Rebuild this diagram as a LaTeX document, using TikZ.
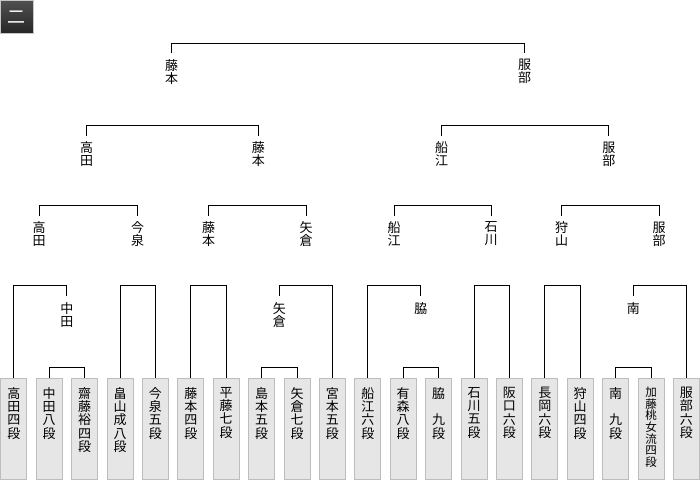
\documentclass[tikz,border=0pt]{standalone}
\usepackage{fontspec}
\setmainfont{Noto Sans CJK JP}
\definecolor{boxfill}{HTML}{E6E6E6}
\definecolor{boxline}{HTML}{BDBDBD}
\definecolor{icontop}{HTML}{505050}
\definecolor{iconbot}{HTML}{262626}
\newcommand\mybrk[3]{\draw[conn] (#1.north) -- (#1.north |- #3) -- (#2.north |- #3) -- (#2.north);}
\begin{document}
\begin{tikzpicture}[x=1pt,y=-1pt,
  conn/.style={draw=black, line width=1pt},
  pbox/.style={draw=boxline, fill=boxfill, minimum width=26pt, minimum height=101pt, anchor=north, inner sep=0pt, line width=1pt},
  ptext/.style={anchor=north, inner sep=0pt, align=center, font=\fontsize{13}{13.3}\selectfont},
  ptextsmall/.style={anchor=north, inner sep=0pt, align=center, font=\fontsize{11.5}{11.6}\selectfont},
  wlabel/.style={anchor=north, inner xsep=0pt, inner ysep=6pt, align=center, font=\fontsize{13}{13}\selectfont},
  iconbox/.style={anchor=north west, minimum width=33pt, minimum height=33pt, inner sep=0pt, top color=icontop, bottom color=iconbot, draw=gray!45, line width=0.8pt, text=white, font=\fontsize{18}{18}\selectfont},
]
\useasboundingbox (0,0) rectangle (700,480);
\fill[white] (0,0) rectangle (700,480);

\node[iconbox] (icon) at (0,0) {二};

% level coordinates
\coordinate (lv1) at (0,367);
\coordinate (lv2) at (0,285);
\coordinate (lv3) at (0,205.7);
\coordinate (lv4) at (0,125);
\coordinate (lv5) at (0,43.3);

% player boxes
\foreach \i/\x in {0/13.8,1/49.2,2/84.6,3/120.0,4/155.4,5/190.8,6/226.2,7/261.6,8/297.0,9/332.4,10/367.8,11/403.2,12/438.6,13/474.0,14/509.4,15/544.8,16/580.2,17/615.6,18/651.0,19/686.4}{
  \node[pbox] (p\i) at (\x,378) {};
}
\node[ptext] (t0) at (p0.north |- 0,387) {高\\田\\四\\段};
\node[ptext] (t1) at (p1.north |- 0,387) {中\\田\\八\\段};
\node[ptext] (t2) at (p2.north |- 0,387) {齋\\藤\\裕\\四\\段};
\node[ptext] (t3) at (p3.north |- 0,387) {畠\\山\\成\\八\\段};
\node[ptext] (t4) at (p4.north |- 0,387) {今\\泉\\五\\段};
\node[ptext] (t5) at (p5.north |- 0,387) {藤\\本\\四\\段};
\node[ptext] (t6) at (p6.north |- 0,387) {平\\藤\\七\\段};
\node[ptext] (t7) at (p7.north |- 0,387) {島\\本\\五\\段};
\node[ptext] (t8) at (p8.north |- 0,387) {矢\\倉\\七\\段};
\node[ptext] (t9) at (p9.north |- 0,387) {宮\\本\\五\\段};
\node[ptext] (t10) at (p10.north |- 0,387) {船\\江\\六\\段};
\node[ptext] (t11) at (p11.north |- 0,387) {有\\森\\八\\段};
\node[ptext] (t12) at (p12.north |- 0,387) {脇\\　\\九\\段};
\node[ptext] (t13) at (p13.north |- 0,387) {石\\川\\五\\段};
\node[ptext] (t14) at (p14.north |- 0,387) {阪\\口\\六\\段};
\node[ptext] (t15) at (p15.north |- 0,387) {長\\岡\\六\\段};
\node[ptext] (t16) at (p16.north |- 0,387) {狩\\山\\四\\段};
\node[ptext] (t17) at (p17.north |- 0,387) {南\\　\\九\\段};
\node[ptextsmall] (t18) at (p18.north |- 0,387) {加\\藤\\桃\\女\\流\\四\\段};
\node[ptext] (t19) at (p19.north |- 0,387) {服\\部\\六\\段};

% round 1 winners
\node[wlabel] (a1) at (66.9,296) {中\\田};
\node[wlabel] (a2) at (279.3,296) {矢\\倉};
\node[wlabel] (a3) at (420.9,296) {脇};
\node[wlabel] (a4) at (633.3,296) {南};

% round 2 winners
\node[wlabel] (b1) at (39.0,215.7) {高\\田};
\node[wlabel] (b2) at (137.5,215.7) {今\\泉};
\node[wlabel] (b3) at (208.5,215.7) {藤\\本};
\node[wlabel] (b4) at (306.0,215.7) {矢\\倉};
\node[wlabel] (b5) at (394.0,215.7) {船\\江};
\node[wlabel] (b6) at (491.0,215.7) {石\\川};
\node[wlabel] (b7) at (561.5,215.7) {狩\\山};
\node[wlabel] (b8) at (659.0,215.7) {服\\部};

% round 3 winners
\node[wlabel] (c1) at (86.7,135.7) {高\\田};
\node[wlabel] (c2) at (258.3,135.7) {藤\\本};
\node[wlabel] (c3) at (441.5,135.7) {船\\江};
\node[wlabel] (c4) at (608.8,135.7) {服\\部};

% round 4 winners
\node[wlabel] (d1) at (171.5,53.3) {藤\\本};
\node[wlabel] (d2) at (524.5,53.3) {服\\部};

% connectors
\mybrk{p1}{p2}{lv1}
\mybrk{p7}{p8}{lv1}
\mybrk{p11}{p12}{lv1}
\mybrk{p17}{p18}{lv1}

\mybrk{p0}{a1}{lv2}
\mybrk{p3}{p4}{lv2}
\mybrk{p5}{p6}{lv2}
\mybrk{a2}{p9}{lv2}
\mybrk{p10}{a3}{lv2}
\mybrk{p13}{p14}{lv2}
\mybrk{p15}{p16}{lv2}
\mybrk{a4}{p19}{lv2}

\mybrk{b1}{b2}{lv3}
\mybrk{b3}{b4}{lv3}
\mybrk{b5}{b6}{lv3}
\mybrk{b7}{b8}{lv3}

\mybrk{c1}{c2}{lv4}
\mybrk{c3}{c4}{lv4}

\mybrk{d1}{d2}{lv5}
\end{tikzpicture}
\end{document}
